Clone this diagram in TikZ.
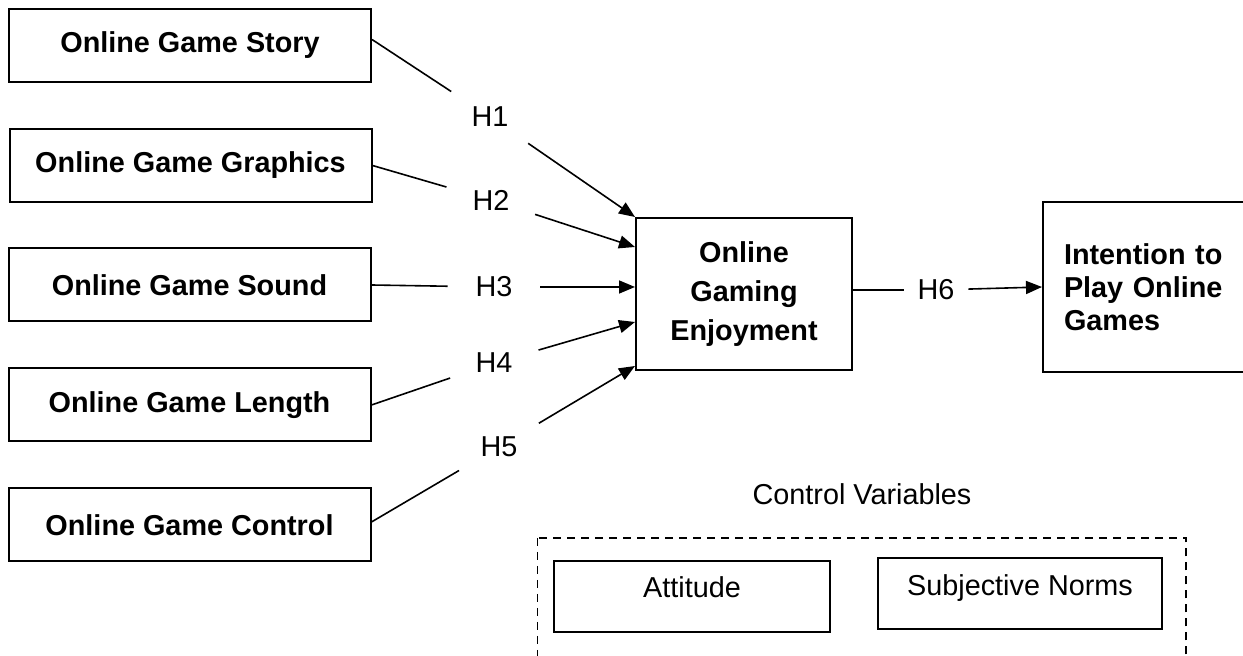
\documentclass[tikz,border=0pt]{standalone}
\usepackage{fontspec}
\setmainfont{Liberation Sans}
\usetikzlibrary{arrows.meta}

\begin{document}
\begin{tikzpicture}[
  x=0.5pt, y=-0.5pt,
  every node/.style = {font=\fontsize{14.4}{19.5}\selectfont},
  factor/.style = {draw, line width=1pt, minimum width=181pt,
    minimum height=36.5pt, inner sep=0pt,
    font=\fontsize{14.4}{19.5}\selectfont\bfseries},
  hyp/.style = {circle, inner sep=0pt, minimum size=46pt},
  link/.style = {line width=0.8pt},
  arr/.style = {line width=0.8pt, -{Triangle[length=8pt,width=6.5pt]}},
  control/.style = {draw, line width=1pt, minimum width=138pt, inner sep=0pt,
    text height=18.5pt, text depth=17pt}
  ]
  \clip (0,0) rectangle (1243,656);

  % factors of the game
  \node[factor] (story)    at (190,45.5)  {Online Game Story};
  \node[factor] (graphics) at (190.5,165.5) {Online Game Graphics};
  \node[factor] (sound)    at (189.5,285) {Online Game Sound};
  \node[factor] (length)   at (189.5,405) {Online Game Length};
  \node[factor] (gamectrl) at (189.5,525) {Online Game Control};

  % enjoyment and intention
  \node[factor, minimum width=108pt, minimum height=76pt, align=center]
    (enjoy) at (744,294) {Online\\Gaming\\Enjoyment};
  \node[factor, anchor=west, minimum width=0pt, minimum height=85pt,
    inner xsep=10.5pt, text width=100pt, align=left,
    font=\fontsize{14.4}{16.5}\selectfont\bfseries]
    (intent) at (1042,287) {Intention to\\Play Online\\Games};

  % hypotheses
  \node[hyp] (h1) at (490,117) {H1};
  \node[hyp] (h2) at (491,200) {H2};
  \node[hyp] (h3) at (494,287) {H3};
  \node[hyp] (h4) at (494,363) {H4};
  \node[hyp] (h5) at (499,447) {H5};
  \node[hyp, minimum size=32pt] (h6) at (936,290) {H6};

  \draw[link] ([yshift=3pt]story.east) -- (h1);
  \draw[link] (graphics.east) -- (h2);
  \draw[link] (sound.east) -- (h3);
  \draw[link] (length.east) -- (h4);
  \draw[link] ([yshift=1.5pt]gamectrl.east) -- (h5);
  \draw[link] ([yshift=2pt]enjoy.east) -- (h6);

  \draw[arr] (h1) -- (enjoy.north west);
  \draw[arr] (h2) -- ([yshift=23.5pt]enjoy.west);
  \draw[arr] (h3) -- ([yshift=3.5pt]enjoy.west);
  \draw[arr] (h4) -- ([yshift=-14pt]enjoy.west);
  \draw[arr] (h5) -- ([yshift=2.5pt]enjoy.south west);
  \draw[arr] (h6) -- (intent.west);

  % control variables
  \node (ctrltitle) at (862,494) {Control Variables};
  \draw[line width=0.9pt, dash pattern=on 4pt off 3pt]
    (537.5,538) rectangle (1186,720);
  \node[control] (attitude) at (692,596.5) {Attitude};
  \node[control, minimum width=142pt] (norms) at (1020,594) {Subjective Norms};
\end{tikzpicture}
\end{document}
